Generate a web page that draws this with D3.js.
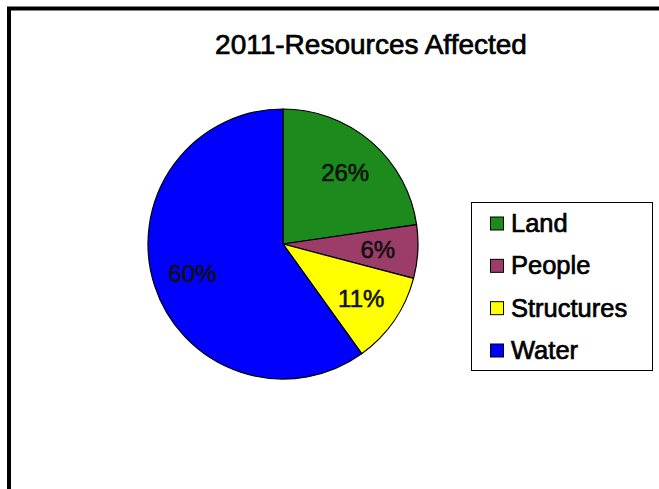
<!DOCTYPE html>
<html>
<head>
<meta charset="utf-8">
<script src="https://cdn.jsdelivr.net/npm/d3@7"></script>
<style>
  html, body { margin: 0; padding: 0; background: #fff; }
  svg { display: block; }
  text { font-family: "Liberation Sans", Arial, sans-serif; }
</style>
</head>
<body>
<svg id="chart" width="659" height="489"></svg>
<script>
// Data (slice shares; printed labels as shown)
const categories = ["Land", "People", "Structures", "Water"];
const values = [22.7, 6.4, 11.0, 59.9];
const labels = ["26%", "6%", "11%", "60%"];
const colors = ["#1c8a1c", "#9b3d68", "#ffff00", "#0000ff"];
const title = "2011-Resources Affected";

const svg = d3.select("#chart");
const W = 659, H = 489;

svg.append("rect").attr("width", W).attr("height", H).attr("fill", "#fff");

// outer frame (left and top visible)
svg.append("line").attr("x1", 9).attr("y1", 7).attr("x2", 9).attr("y2", H)
  .attr("stroke", "#000").attr("stroke-width", 4);
svg.append("line").attr("x1", 7).attr("y1", 8.5).attr("x2", W).attr("y2", 8.5)
  .attr("stroke", "#000").attr("stroke-width", 4);

svg.append("text")
  .attr("x", 371).attr("y", 54)
  .attr("text-anchor", "middle")
  .attr("font-size", 28)
  .attr("fill", "#000")
  .attr("stroke", "#000").attr("stroke-width", 0.7)
  .text(title);

const cx = 283, cy = 244, r = 135;
const data = categories.map((c, i) => ({ c, v: values[i], label: labels[i], color: colors[i] }));
const pie = d3.pie().value(d => d.v).sort(null).startAngle(0).endAngle(2 * Math.PI);
const arcs = pie(data);
const arc = d3.arc().innerRadius(0).outerRadius(r);
const labelArc = d3.arc().innerRadius(95).outerRadius(95);

const g = svg.append("g").attr("transform", `translate(${cx},${cy})`);
g.selectAll("path").data(arcs).join("path")
  .attr("d", arc)
  .attr("fill", d => d.data.color)
  .attr("stroke", "#000")
  .attr("stroke-width", 1.2)
  .attr("stroke-linejoin", "round");

g.selectAll("text.lbl").data(arcs).join("text")
  .attr("class", "lbl")
  .attr("transform", d => `translate(${labelArc.centroid(d)})`)
  .attr("text-anchor", "middle")
  .attr("dy", "0.36em")
  .attr("font-size", 24)
  .attr("fill", "#111")
  .attr("stroke", "#111").attr("stroke-width", 0.6)
  .text(d => d.data.label);

// legend
const lx = 471, ly = 202, lw = 181, lh = 168;
svg.append("rect").attr("x", lx + 0.5).attr("y", ly + 0.5).attr("width", lw).attr("height", lh)
  .attr("fill", "#fff").attr("stroke", "#000").attr("stroke-width", 1);

const rowY = d3.scalePoint().domain(categories).range([223.5, 350.5]);
const lg = svg.append("g");
const rows = lg.selectAll("g").data(data).join("g")
  .attr("transform", d => `translate(0,${rowY(d.c)})`);
rows.append("rect")
  .attr("x", 490.5).attr("y", -6.5).attr("width", 13).attr("height", 13)
  .attr("fill", d => d.color).attr("stroke", "#000").attr("stroke-width", 1);
rows.append("text")
  .attr("x", 511).attr("y", 8.5)
  .attr("font-size", 25.5)
  .attr("fill", "#000")
  .attr("stroke", "#000").attr("stroke-width", 0.7)
  .text(d => d.c);
</script>
</body>
</html>
